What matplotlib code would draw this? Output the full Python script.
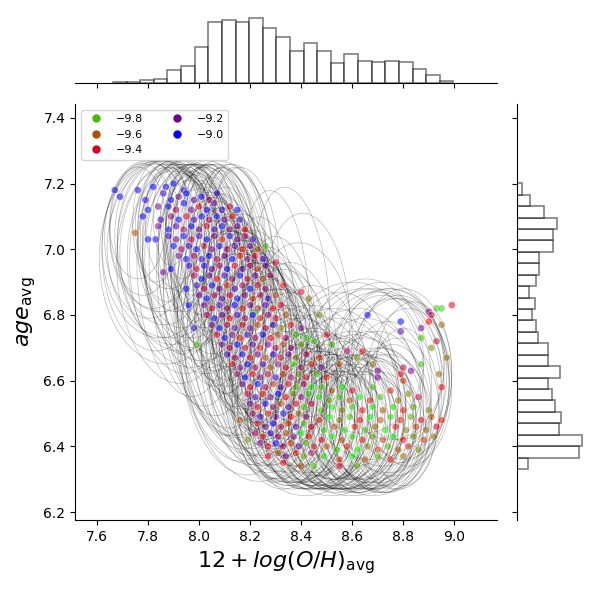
import numpy as np
import matplotlib
matplotlib.use('Agg')
import matplotlib.pyplot as plt
from matplotlib.patches import Ellipse
from matplotlib.colors import Normalize
from matplotlib.lines import Line2D

# marginal histograms (counts)
x_lo, x_bin = 7.663, 0.05333
x_counts = [3, 3, 9, 12, 41, 53, 110, 185, 191, 185, 197, 167, 140, 98, 122,
            98, 60, 89, 68, 65, 68, 65, 44, 26, 6]
y_lo, y_bin = 6.331, 0.0348
y_counts = [33, 186, 195, 126, 131, 113, 104, 93, 128, 93, 93, 63, 56, 45,
            53, 35, 57, 66, 66, 107, 107, 120, 80, 38, 15]

# scatter points: (12+log(O/H), age, hue)
pts_upper = [
    (7.82, 7.19, -9.0), (7.87, 7.19, -9.05), (7.90, 7.20, -9.0), (7.94, 7.18, -9.1),
    (7.67, 7.18, -9.0), (7.69, 7.16, -9.0), (7.76, 7.18, -9.0), (7.79, 7.15, -9.05),
    (7.86, 7.17, -9.1), (7.89, 7.15, -9.0), (7.92, 7.16, -9.2), (7.95, 7.17, -9.0),
    (7.98, 7.15, -9.15), (8.01, 7.16, -9.0), (8.04, 7.15, -9.3), (8.07, 7.17, -9.1),
    (7.80, 7.12, -9.0), (7.84, 7.13, -9.2), (7.88, 7.13, -9.0), (7.91, 7.12, -9.3),
    (7.94, 7.14, -9.0), (7.97, 7.12, -9.2), (8.00, 7.13, -9.45), (8.03, 7.12, -9.0),
    (8.06, 7.14, -9.2), (8.09, 7.12, -9.1), (8.12, 7.13, -9.35), (8.15, 7.12, -9.0),
    (7.78, 7.10, -9.0), (7.85, 7.09, -9.1), (7.89, 7.10, -9.25), (7.92, 7.09, -9.0),
    (7.95, 7.10, -9.4), (7.98, 7.09, -9.1), (8.01, 7.10, -9.0), (8.04, 7.09, -9.3),
    (8.07, 7.10, -9.0), (8.10, 7.09, -9.2), (8.13, 7.10, -9.5), (8.16, 7.09, -9.1),
    (7.84, 7.07, -9.2), (7.88, 7.06, -9.0), (7.91, 7.07, -9.15), (7.94, 7.06, -9.3),
    (7.97, 7.07, -9.0), (8.00, 7.06, -9.2), (8.03, 7.07, -9.4), (8.06, 7.06, -9.1),
    (8.09, 7.07, -9.0), (8.12, 7.06, -9.3), (8.15, 7.07, -9.2), (8.18, 7.06, -9.45),
    (7.80, 7.03, -9.0), (7.83, 7.03, -9.05), (7.75, 7.05, -9.6), (7.88, 7.04, -9.1),
    (7.91, 7.03, -9.2), (7.94, 7.04, -9.0), (7.97, 7.03, -9.35), (8.00, 7.04, -9.1),
    (8.03, 7.03, -9.0), (8.06, 7.04, -9.25), (8.09, 7.03, -9.5), (8.12, 7.04, -9.0),
    (8.15, 7.03, -9.2), (8.18, 7.04, -9.3), (8.21, 7.03, -9.1),
    (7.90, 7.01, -9.0), (7.93, 7.00, -9.3), (7.96, 7.01, -9.1), (7.99, 7.00, -9.0),
    (8.02, 7.01, -9.4), (8.05, 7.00, -9.2), (8.08, 7.01, -9.0), (8.11, 7.00, -9.3),
    (8.14, 7.01, -9.15), (8.17, 7.00, -9.45), (8.20, 7.01, -9.2), (8.23, 7.00, -9.6),
    (8.26, 7.01, -9.8),
    (7.92, 6.98, -9.2), (7.95, 6.97, -9.0), (7.98, 6.98, -9.3), (8.01, 6.97, -9.1),
    (8.04, 6.98, -9.0), (8.07, 6.97, -9.35), (8.10, 6.98, -9.2), (8.13, 6.97, -9.0),
    (8.16, 6.98, -9.5), (8.19, 6.97, -9.25), (8.22, 6.98, -9.4), (8.25, 6.97, -9.1),
    (7.89, 6.94, -9.0), (7.96, 6.95, -9.1), (7.99, 6.94, -9.4), (8.02, 6.95, -9.0),
    (8.05, 6.94, -9.2), (8.08, 6.95, -9.3), (8.11, 6.94, -9.0), (8.14, 6.95, -9.45),
    (8.17, 6.94, -9.15), (8.20, 6.95, -9.3), (8.23, 6.94, -9.55), (8.26, 6.95, -9.2),
    (8.30, 6.96, -9.4),
    (7.86, 6.93, -9.2), (7.98, 6.92, -9.3), (8.01, 6.91, -9.0), (8.04, 6.92, -9.2),
    (8.07, 6.91, -9.45), (8.10, 6.92, -9.1), (8.13, 6.91, -9.3), (8.16, 6.92, -9.0),
    (8.19, 6.91, -9.35), (8.22, 6.92, -9.2), (8.25, 6.91, -9.6), (8.28, 6.92, -9.3),
    (7.95, 6.88, -9.0), (7.99, 6.89, -9.1), (8.02, 6.88, -9.35), (8.05, 6.89, -9.0),
    (8.08, 6.88, -9.2), (8.11, 6.89, -9.5), (8.14, 6.88, -9.1), (8.17, 6.89, -9.3),
    (8.20, 6.88, -9.0), (8.23, 6.89, -9.4), (8.26, 6.88, -9.25), (8.33, 6.89, -9.45),
    (8.00, 6.86, -9.2), (8.03, 6.85, -9.0), (8.06, 6.86, -9.3), (8.09, 6.85, -9.15),
    (8.12, 6.86, -9.4), (8.15, 6.85, -9.0), (8.18, 6.86, -9.25), (8.21, 6.85, -9.55),
    (8.24, 6.86, -9.3), (8.27, 6.85, -9.1), (8.30, 6.86, -9.6), (8.40, 6.87, -9.4),
    (8.43, 6.85, -9.65),
]

pts_band = [
    (7.96, 6.83, -9.0), (8.02, 6.83, -9.2), (8.05, 6.82, -9.4), (8.08, 6.83, -9.1),
    (8.11, 6.82, -9.3), (8.14, 6.83, -9.0), (8.17, 6.82, -9.5), (8.20, 6.83, -9.2),
    (8.23, 6.82, -9.35), (8.26, 6.83, -9.15), (8.29, 6.82, -9.45), (8.32, 6.83, -9.4),
    (8.22, 6.81, -9.8),
    (8.03, 6.80, -9.3), (8.06, 6.79, -9.0), (8.09, 6.80, -9.2), (8.12, 6.79, -9.45),
    (8.15, 6.80, -9.1), (8.18, 6.79, -9.3), (8.21, 6.80, -9.0), (8.24, 6.79, -9.5),
    (8.27, 6.80, -9.25), (8.30, 6.79, -9.4), (8.34, 6.80, -9.6),
    (7.98, 6.76, -9.1), (8.05, 6.77, -9.2), (8.08, 6.76, -9.0), (8.11, 6.77, -9.35),
    (8.14, 6.76, -9.15), (8.17, 6.77, -9.4), (8.20, 6.76, -9.2), (8.23, 6.77, -9.55),
    (8.26, 6.76, -9.3), (8.29, 6.77, -9.1), (8.32, 6.76, -9.7), (8.36, 6.77, -9.45),
    (8.40, 6.76, -9.2),
    (8.07, 6.74, -9.4), (8.10, 6.73, -9.0), (8.13, 6.74, -9.25), (8.16, 6.73, -9.5),
    (8.19, 6.74, -9.1), (8.22, 6.73, -9.3), (8.25, 6.74, -9.0), (8.28, 6.73, -9.45),
    (8.31, 6.74, -9.6), (8.34, 6.73, -9.3), (8.38, 6.74, -9.8), (8.42, 6.73, -9.85),
    (8.50, 6.74, -9.4),
    (7.99, 6.71, -9.8), (8.09, 6.71, -9.2), (8.12, 6.70, -9.35), (8.15, 6.71, -9.0),
    (8.18, 6.70, -9.4), (8.21, 6.71, -9.15), (8.24, 6.70, -9.5), (8.27, 6.71, -9.2),
    (8.30, 6.70, -9.35), (8.33, 6.71, -9.6), (8.36, 6.70, -9.25), (8.40, 6.71, -9.75),
    (8.45, 6.72, -9.8),
    (8.11, 6.68, -9.1), (8.14, 6.67, -9.3), (8.17, 6.68, -9.0), (8.20, 6.67, -9.45),
    (8.23, 6.68, -9.2), (8.26, 6.67, -9.55), (8.29, 6.68, -9.1), (8.32, 6.67, -9.4),
    (8.35, 6.68, -9.2), (8.38, 6.67, -9.65), (8.42, 6.68, -9.3), (8.47, 6.67, -9.5),
    (8.58, 6.69, -9.3), (8.62, 6.67, -9.7),
    (8.13, 6.65, -9.4), (8.16, 6.64, -9.2), (8.19, 6.65, -9.0), (8.22, 6.64, -9.3),
    (8.25, 6.65, -9.15), (8.28, 6.64, -9.6), (8.31, 6.65, -9.25), (8.34, 6.64, -9.4),
    (8.37, 6.65, -9.85), (8.40, 6.64, -9.3), (8.44, 6.65, -9.5), (8.48, 6.64, -9.2),
    (8.55, 6.65, -9.6),
    (8.15, 6.62, -9.3), (8.18, 6.61, -9.0), (8.21, 6.62, -9.45), (8.24, 6.61, -9.2),
    (8.27, 6.62, -9.35), (8.30, 6.61, -9.1), (8.33, 6.62, -9.55), (8.36, 6.61, -9.3),
    (8.39, 6.62, -9.7), (8.42, 6.61, -9.4), (8.46, 6.62, -9.8), (8.50, 6.61, -9.5),
]

pts_lower = [
    (8.17, 6.59, -9.2), (8.20, 6.58, -9.4), (8.23, 6.59, -9.0), (8.26, 6.58, -9.3),
    (8.29, 6.59, -9.55), (8.32, 6.58, -9.15), (8.35, 6.59, -9.4), (8.38, 6.58, -9.8),
    (8.41, 6.59, -9.3), (8.44, 6.58, -9.9),
    (8.19, 6.56, -9.35), (8.22, 6.55, -9.1), (8.25, 6.56, -9.5), (8.28, 6.55, -9.2),
    (8.31, 6.56, -9.0), (8.34, 6.55, -9.45), (8.37, 6.56, -9.7), (8.40, 6.55, -9.25),
    (8.43, 6.56, -9.85),
    (8.20, 6.53, -9.2), (8.23, 6.52, -9.45), (8.26, 6.53, -9.0), (8.29, 6.52, -9.3),
    (8.32, 6.53, -9.6), (8.35, 6.52, -9.15), (8.38, 6.53, -9.4), (8.41, 6.52, -9.8),
    (8.44, 6.53, -9.35),
    (8.21, 6.50, -9.3), (8.24, 6.49, -9.1), (8.27, 6.50, -9.5), (8.30, 6.49, -9.2),
    (8.33, 6.50, -9.0), (8.36, 6.49, -9.45), (8.39, 6.50, -9.65), (8.42, 6.49, -9.25),
    (8.16, 6.48, -9.6),
    (8.23, 6.47, -9.4), (8.26, 6.46, -9.2), (8.29, 6.47, -9.0), (8.32, 6.46, -9.35),
    (8.35, 6.47, -9.55), (8.38, 6.46, -9.15), (8.41, 6.47, -9.8), (8.44, 6.46, -9.4),
    (8.22, 6.44, -9.3), (8.25, 6.43, -9.5), (8.28, 6.44, -9.1), (8.31, 6.43, -9.3),
    (8.34, 6.44, -9.6), (8.37, 6.43, -9.2), (8.40, 6.44, -9.9), (8.43, 6.43, -9.45),
    (8.19, 6.42, -9.7),
    (8.24, 6.41, -9.2), (8.27, 6.40, -9.45), (8.30, 6.41, -9.0), (8.33, 6.40, -9.3),
    (8.36, 6.41, -9.55), (8.39, 6.40, -9.15), (8.42, 6.41, -9.8), (8.45, 6.40, -9.4),
    (8.27, 6.37, -9.4), (8.31, 6.38, -9.6), (8.34, 6.37, -9.2), (8.38, 6.38, -9.5),
    (8.41, 6.37, -9.75), (8.44, 6.38, -9.3),
    (8.33, 6.35, -9.45), (8.40, 6.34, -9.6), (8.45, 6.34, -9.8),
]

pts_right = [
    (8.48, 6.58, -9.8), (8.52, 6.57, -9.6), (8.56, 6.58, -9.9), (8.60, 6.57, -9.4),
    (8.68, 6.58, -9.8), (8.75, 6.57, -9.5), (8.82, 6.56, -9.7),
    (8.47, 6.55, -9.9), (8.51, 6.54, -9.75), (8.55, 6.55, -9.85), (8.59, 6.54, -9.6),
    (8.63, 6.55, -9.9), (8.67, 6.54, -9.5), (8.71, 6.55, -9.8), (8.78, 6.54, -9.65),
    (8.86, 6.55, -9.4),
    (8.48, 6.51, -9.8), (8.52, 6.52, -9.9), (8.56, 6.51, -9.7), (8.60, 6.52, -9.85),
    (8.64, 6.51, -9.45), (8.68, 6.52, -9.9), (8.72, 6.51, -9.6), (8.76, 6.52, -9.85),
    (8.80, 6.51, -9.5), (8.84, 6.52, -9.75), (8.90, 6.51, -9.7),
    (8.47, 6.48, -9.5), (8.51, 6.49, -9.9), (8.55, 6.48, -9.7), (8.59, 6.49, -9.8),
    (8.63, 6.48, -9.45), (8.67, 6.49, -9.9), (8.71, 6.48, -9.6), (8.75, 6.49, -9.85),
    (8.79, 6.48, -9.5), (8.83, 6.49, -9.75), (8.87, 6.48, -9.4), (8.91, 6.49, -9.6),
    (8.95, 6.48, -9.5),
    (8.49, 6.45, -9.85), (8.53, 6.46, -9.6), (8.57, 6.45, -9.9), (8.61, 6.46, -9.5),
    (8.65, 6.45, -9.8), (8.69, 6.46, -9.65), (8.73, 6.45, -9.9), (8.77, 6.46, -9.45),
    (8.81, 6.45, -9.7), (8.85, 6.46, -9.55), (8.89, 6.45, -9.65), (8.93, 6.46, -9.4),
    (8.48, 6.42, -9.4), (8.52, 6.43, -9.9), (8.56, 6.42, -9.6), (8.60, 6.43, -9.85),
    (8.64, 6.42, -9.5), (8.68, 6.43, -9.75), (8.72, 6.42, -9.6), (8.76, 6.43, -9.9),
    (8.80, 6.42, -9.45), (8.84, 6.43, -9.7), (8.88, 6.42, -9.55), (8.92, 6.43, -9.65),
    (8.50, 6.40, -9.6), (8.54, 6.39, -9.85), (8.58, 6.40, -9.5), (8.62, 6.39, -9.9),
    (8.66, 6.40, -9.7), (8.70, 6.39, -9.55), (8.74, 6.40, -9.8), (8.78, 6.39, -9.6),
    (8.82, 6.40, -9.5), (8.86, 6.39, -9.7),
    (8.49, 6.37, -9.85), (8.55, 6.36, -9.55), (8.60, 6.37, -9.9), (8.65, 6.36, -9.6),
    (8.70, 6.37, -9.8), (8.75, 6.36, -9.5), (8.80, 6.37, -9.65),
    (8.55, 6.34, -9.4), (8.62, 6.34, -9.75),
]

pts_outliers = [
    (8.66, 6.80, -9.0), (8.79, 6.78, -9.0), (8.79, 6.75, -9.15), (8.90, 6.81, -9.2),
    (8.93, 6.82, -9.8), (8.95, 6.82, -9.85), (8.99, 6.83, -9.4), (8.90, 6.78, -9.45),
    (8.91, 6.80, -9.35), (8.87, 6.76, -9.2), (8.95, 6.77, -9.65), (8.87, 6.73, -9.8),
    (8.93, 6.72, -9.35), (8.91, 6.70, -9.7), (8.97, 6.67, -9.65), (8.64, 6.69, -9.4),
    (8.68, 6.65, -9.65), (8.70, 6.63, -9.2), (8.70, 6.61, -9.2), (8.87, 6.65, -9.8),
    (8.80, 6.64, -9.35), (8.79, 6.62, -9.45), (8.83, 6.63, -9.2), (8.94, 6.62, -9.65),
    (8.95, 6.58, -9.45), (8.80, 6.60, -9.55), (8.52, 6.71, -9.8), (8.47, 6.80, -9.7),
]

# error ellipses: (centre x, centre y, width, height, angle)
ell_upper = [
    (7.84, 7.00, 0.44, 0.54, 4), (7.80, 7.03, 0.34, 0.48, 2), (7.78, 7.06, 0.26, 0.40, 0),
    (7.88, 6.99, 0.40, 0.56, 5), (7.92, 7.01, 0.30, 0.50, 4), (7.87, 7.05, 0.22, 0.42, 2),
    (7.96, 6.98, 0.36, 0.56, 6), (8.00, 7.01, 0.28, 0.50, 6), (7.97, 7.06, 0.20, 0.40, 3),
    (8.03, 6.97, 0.32, 0.58, 7), (8.06, 7.00, 0.26, 0.52, 6), (8.08, 6.95, 0.38, 0.62, 8),
    (7.92, 6.93, 0.38, 0.62, 7), (8.02, 6.91, 0.30, 0.66, 9), (8.11, 7.02, 0.22, 0.46, 5),
    (7.83, 7.08, 0.18, 0.36, 0), (7.93, 7.08, 0.16, 0.34, 2), (8.05, 7.06, 0.18, 0.40, 4),
    (7.95, 6.95, 0.46, 0.62, 7), (8.14, 6.98, 0.30, 0.56, 7), (7.90, 7.04, 0.28, 0.46, 3),
    (7.99, 7.03, 0.24, 0.46, 5), (8.04, 7.03, 0.34, 0.48, 5), (7.86, 6.96, 0.50, 0.62, 6),
    (8.10, 7.05, 0.16, 0.38, 3), (8.00, 6.94, 0.42, 0.64, 8), (7.94, 7.07, 0.30, 0.40, 2),
    (8.07, 6.92, 0.36, 0.68, 9), (8.12, 6.94, 0.28, 0.62, 8), (7.98, 6.98, 0.20, 0.54, 5),
    (7.76, 7.08, 0.22, 0.34, 0), (8.16, 7.01, 0.20, 0.48, 6), (7.89, 7.10, 0.14, 0.30, 0),
    (8.01, 7.08, 0.12, 0.34, 3), (7.91, 6.97, 0.26, 0.58, 6), (8.09, 6.99, 0.40, 0.56, 7),
    (7.82, 6.98, 0.40, 0.58, 4), (7.86, 7.02, 0.36, 0.50, 2), (7.90, 6.92, 0.44, 0.66, 8),
    (7.88, 7.00, 0.48, 0.54, 3), (7.92, 6.98, 0.46, 0.58, 4), (7.96, 7.00, 0.40, 0.54, 4),
    (7.85, 7.04, 0.40, 0.46, 2), (8.00, 6.96, 0.44, 0.60, 5), (8.04, 6.94, 0.40, 0.62, 6),
    (7.94, 6.90, 0.36, 0.70, 7), (7.98, 6.88, 0.34, 0.72, 8), (8.02, 6.86, 0.36, 0.74, 9),
    (7.82, 7.04, 0.30, 0.44, 0), (7.88, 7.07, 0.26, 0.38, 0), (8.08, 7.04, 0.28, 0.44, 4),
    (8.14, 7.04, 0.24, 0.44, 4), (8.18, 7.00, 0.26, 0.50, 6),
]

ell_band = [
    (8.10, 6.85, 0.30, 0.60, 9), (8.13, 6.82, 0.34, 0.62, 10), (8.16, 6.80, 0.28, 0.58, 9),
    (8.18, 6.77, 0.36, 0.60, 10), (8.20, 6.75, 0.30, 0.56, 9), (8.22, 6.72, 0.34, 0.58, 10),
    (8.24, 6.70, 0.28, 0.52, 8), (8.26, 6.68, 0.38, 0.58, 9), (8.28, 6.66, 0.32, 0.52, 8),
    (8.30, 6.64, 0.36, 0.54, 8), (8.12, 6.78, 0.40, 0.70, 11), (8.17, 6.73, 0.42, 0.68, 11),
    (8.21, 6.69, 0.40, 0.64, 10), (8.25, 6.65, 0.44, 0.62, 9), (8.08, 6.88, 0.26, 0.56, 8),
    (8.15, 6.86, 0.24, 0.50, 7), (8.19, 6.83, 0.22, 0.46, 6), (8.23, 6.79, 0.26, 0.50, 7),
    (8.27, 6.75, 0.30, 0.50, 7), (8.31, 6.71, 0.32, 0.50, 6), (8.34, 6.68, 0.36, 0.52, 6),
    (8.14, 6.76, 0.30, 0.72, 12), (8.19, 6.71, 0.32, 0.70, 12), (8.24, 6.67, 0.36, 0.66, 11),
    (8.29, 6.62, 0.40, 0.60, 9), (8.33, 6.60, 0.42, 0.56, 8), (8.06, 6.82, 0.38, 0.74, 12),
    (8.10, 6.80, 0.46, 0.76, 13), (8.36, 6.84, 0.30, 0.70, 5), (8.42, 6.80, 0.34, 0.62, 4),
    (8.30, 6.86, 0.26, 0.64, 5), (8.40, 6.74, 0.40, 0.56, 4), (8.18, 6.88, 0.20, 0.48, 6),
    (8.26, 6.82, 0.24, 0.56, 6), (8.32, 6.76, 0.28, 0.56, 6), (8.37, 6.70, 0.34, 0.52, 5),
    (8.22, 6.76, 0.20, 0.60, 9), (8.28, 6.70, 0.22, 0.56, 8), (8.16, 6.70, 0.48, 0.72, 13),
    (8.35, 6.64, 0.30, 0.48, 5), (8.12, 6.92, 0.20, 0.50, 6), (8.20, 6.64, 0.50, 0.70, 12),
    (8.10, 6.76, 0.36, 0.66, 8), (8.14, 6.72, 0.40, 0.66, 8), (8.18, 6.68, 0.40, 0.62, 8),
    (8.22, 6.64, 0.42, 0.60, 7), (8.26, 6.60, 0.44, 0.56, 6), (8.06, 6.78, 0.30, 0.70, 9),
    (8.20, 6.80, 0.30, 0.62, 8), (8.24, 6.76, 0.32, 0.60, 8), (8.28, 6.72, 0.34, 0.58, 7),
    (8.32, 6.68, 0.38, 0.56, 6), (8.15, 6.66, 0.44, 0.70, 10), (8.11, 6.72, 0.40, 0.74, 11),
]

ell_core = [
    (7.98, 7.00, 0.16, 0.44, 2), (8.02, 6.98, 0.18, 0.46, 3), (8.05, 6.95, 0.16, 0.48, 3),
    (8.08, 6.92, 0.18, 0.50, 4), (8.10, 6.88, 0.16, 0.50, 4), (8.12, 6.85, 0.18, 0.50, 4),
    (8.14, 6.82, 0.16, 0.48, 4), (8.16, 6.78, 0.18, 0.48, 4), (8.18, 6.75, 0.16, 0.46, 4),
    (8.20, 6.72, 0.18, 0.46, 4), (8.23, 6.68, 0.18, 0.44, 4), (8.26, 6.64, 0.20, 0.42, 3),
    (8.29, 6.60, 0.22, 0.40, 3), (8.33, 6.56, 0.24, 0.38, 2), (8.37, 6.52, 0.26, 0.36, 2),
    (8.42, 6.49, 0.28, 0.34, 1), (8.47, 6.47, 0.28, 0.32, 1), (8.53, 6.46, 0.28, 0.32, 0),
    (8.59, 6.46, 0.28, 0.32, 0), (8.65, 6.46, 0.26, 0.32, 0), (7.94, 7.02, 0.20, 0.42, 1),
    (8.00, 7.03, 0.22, 0.40, 2), (8.06, 7.00, 0.20, 0.44, 3), (8.12, 6.96, 0.20, 0.46, 4),
    (8.04, 6.88, 0.24, 0.56, 5), (8.09, 6.84, 0.22, 0.56, 5), (8.13, 6.79, 0.24, 0.54, 5),
    (8.17, 6.74, 0.24, 0.52, 5), (8.21, 6.70, 0.24, 0.50, 4), (8.25, 6.66, 0.26, 0.48, 4),
    (8.30, 6.62, 0.28, 0.44, 3), (8.35, 6.58, 0.30, 0.42, 3), (8.40, 6.54, 0.32, 0.40, 2),
    (8.46, 6.51, 0.32, 0.38, 1), (8.52, 6.49, 0.34, 0.38, 1), (8.58, 6.49, 0.34, 0.38, 0),
    (8.64, 6.49, 0.32, 0.38, 0), (8.70, 6.49, 0.30, 0.38, 0), (7.97, 6.95, 0.26, 0.52, 3),
    (8.03, 6.92, 0.28, 0.56, 4), (8.08, 6.86, 0.30, 0.60, 5), (8.14, 6.80, 0.30, 0.60, 5),
    (8.19, 6.74, 0.30, 0.58, 5), (8.24, 6.69, 0.32, 0.54, 4), (8.31, 6.63, 0.34, 0.50, 3),
    (8.38, 6.57, 0.36, 0.46, 2), (8.45, 6.53, 0.38, 0.44, 1), (8.53, 6.52, 0.40, 0.44, 0),
    (8.61, 6.52, 0.40, 0.44, 0),
]

ell_lower = [
    (8.35, 6.52, 0.40, 0.46, 5), (8.38, 6.50, 0.36, 0.42, 4), (8.40, 6.54, 0.44, 0.50, 5),
    (8.42, 6.49, 0.38, 0.44, 3), (8.45, 6.52, 0.42, 0.48, 4), (8.48, 6.48, 0.36, 0.42, 2),
    (8.50, 6.51, 0.40, 0.46, 3), (8.52, 6.47, 0.34, 0.40, 2), (8.55, 6.50, 0.40, 0.46, 2),
    (8.58, 6.48, 0.38, 0.44, 1), (8.60, 6.51, 0.42, 0.48, 2), (8.62, 6.47, 0.36, 0.42, 0),
    (8.65, 6.50, 0.38, 0.46, 1), (8.68, 6.48, 0.34, 0.42, 0), (8.70, 6.51, 0.38, 0.48, 0),
    (8.72, 6.48, 0.32, 0.44, 0), (8.30, 6.56, 0.40, 0.52, 7), (8.32, 6.53, 0.34, 0.48, 6),
    (8.27, 6.58, 0.38, 0.56, 8), (8.36, 6.56, 0.48, 0.54, 6), (8.44, 6.55, 0.50, 0.56, 5),
    (8.53, 6.54, 0.50, 0.56, 3), (8.62, 6.54, 0.50, 0.56, 2), (8.40, 6.46, 0.30, 0.38, 3),
    (8.47, 6.45, 0.30, 0.36, 2), (8.55, 6.45, 0.30, 0.36, 1), (8.63, 6.45, 0.30, 0.38, 0),
    (8.70, 6.46, 0.28, 0.40, 0), (8.76, 6.49, 0.30, 0.44, 0), (8.34, 6.48, 0.30, 0.40, 5),
    (8.43, 6.50, 0.26, 0.44, 3), (8.50, 6.49, 0.28, 0.44, 2), (8.57, 6.50, 0.26, 0.44, 1),
    (8.66, 6.52, 0.30, 0.46, 0), (8.74, 6.53, 0.34, 0.50, 0), (8.28, 6.52, 0.30, 0.46, 7),
    (8.38, 6.57, 0.36, 0.60, 7), (8.46, 6.58, 0.42, 0.62, 5), (8.56, 6.57, 0.44, 0.60, 3),
    (8.80, 6.52, 0.28, 0.48, 0), (8.42, 6.44, 0.44, 0.38, 2), (8.60, 6.44, 0.50, 0.38, 1),
    (8.52, 6.44, 0.46, 0.38, 2), (8.68, 6.44, 0.42, 0.38, 0),
    (8.40, 6.50, 0.42, 0.40, 3), (8.46, 6.49, 0.44, 0.40, 2), (8.52, 6.48, 0.44, 0.40, 1),
    (8.58, 6.47, 0.44, 0.40, 0), (8.64, 6.48, 0.42, 0.40, 0), (8.70, 6.49, 0.40, 0.42, 0),
    (8.36, 6.47, 0.36, 0.40, 4), (8.44, 6.46, 0.38, 0.38, 2), (8.50, 6.46, 0.40, 0.38, 1),
    (8.56, 6.46, 0.42, 0.38, 0), (8.62, 6.46, 0.40, 0.38, 0), (8.68, 6.47, 0.38, 0.40, 0),
    (8.74, 6.47, 0.34, 0.42, 0), (8.32, 6.50, 0.36, 0.46, 6), (8.78, 6.50, 0.32, 0.46, 0),
    (8.45, 6.54, 0.46, 0.52, 3), (8.55, 6.53, 0.48, 0.52, 2), (8.65, 6.53, 0.46, 0.52, 1),
    (8.35, 6.55, 0.44, 0.54, 6),
]

ell_wide = [
    (8.74, 6.60, 0.48, 0.56, 0), (8.76, 6.58, 0.44, 0.54, 0), (8.72, 6.62, 0.50, 0.56, 2),
    (8.78, 6.60, 0.40, 0.50, 0), (8.70, 6.58, 0.52, 0.58, 1), (8.80, 6.62, 0.38, 0.52, 0),
    (8.68, 6.62, 0.54, 0.52, 2), (8.82, 6.58, 0.34, 0.48, 0), (8.75, 6.65, 0.42, 0.46, 0),
    (8.66, 6.60, 0.50, 0.62, 3), (8.60, 6.62, 0.56, 0.56, 3), (8.84, 6.62, 0.30, 0.44, 0),
    (8.72, 6.56, 0.46, 0.60, 0), (8.78, 6.64, 0.36, 0.44, 0), (8.64, 6.66, 0.48, 0.44, 2),
]

legend_values = [-9.8, -9.6, -9.4, -9.2, -9.0]

pts = np.array(pts_upper + pts_band + pts_lower + pts_right + pts_outliers)
ells = ell_upper + ell_band + ell_core + ell_lower + ell_wide

cmap = plt.get_cmap('brg_r')
norm = Normalize(vmin=-9.92, vmax=-9.0)

fig = plt.figure(figsize=(6, 6), dpi=100)
ax = fig.add_axes([0.125, 0.1333, 0.7033, 0.6933])
ax_top = fig.add_axes([0.125, 0.8611, 0.7033, 0.115], sharex=ax)
ax_right = fig.add_axes([0.8617, 0.1333, 0.115, 0.6933], sharey=ax)

for cx, cy, w, h, ang in ells:
    ax.add_patch(Ellipse((cx, cy), w, h, angle=ang, fill=False,
                         edgecolor='black', lw=0.5, alpha=0.27, zorder=2))

ax.scatter(pts[:, 0], pts[:, 1], c=pts[:, 2], cmap=cmap, norm=norm, s=26,
           alpha=0.55, edgecolors='white', linewidths=0.5, zorder=3)

handles = [Line2D([], [], ls='', marker='o', markersize=5,
                  color=cmap(norm(v)), label=f'{v:.1f}'.replace('-', '\u2212'))
           for v in legend_values]
ax.legend(handles=handles, ncol=2, loc='upper left', fontsize=8)

ax.set_xlim(7.514, 9.167)
ax.set_ylim(6.176, 7.442)
ax.set_xticks(np.arange(7.6, 9.01, 0.2))
ax.set_yticks(np.arange(6.2, 7.41, 0.2))
ax.spines['top'].set_visible(False)
ax.spines['right'].set_visible(False)
ax.set_xlabel(r'$12 + log(O/H)_{\rm avg}$', fontsize=16)
ax.set_ylabel(r'$age_{\rm avg}$', fontsize=16)

# marginals
x_edges = x_lo + x_bin * np.arange(len(x_counts))
ax_top.bar(x_edges, x_counts, width=x_bin, align='edge', facecolor='white',
           edgecolor='black', alpha=0.5, linewidth=1.2)
ax_top.set_ylim(0, 207)
y_edges = y_lo + y_bin * np.arange(len(y_counts))
ax_right.barh(y_edges, y_counts, height=y_bin, align='edge', facecolor='white',
              edgecolor='black', alpha=0.5, linewidth=1.2)
ax_right.set_xlim(0, 207)

ax_top.tick_params(labelbottom=False)
ax_top.set_yticks([])
ax_right.tick_params(labelleft=False)
ax_right.set_xticks([])
for s in ['top', 'right', 'left']:
    ax_top.spines[s].set_visible(False)
for s in ['top', 'right', 'bottom']:
    ax_right.spines[s].set_visible(False)

fig.savefig('out.png', dpi=100)
